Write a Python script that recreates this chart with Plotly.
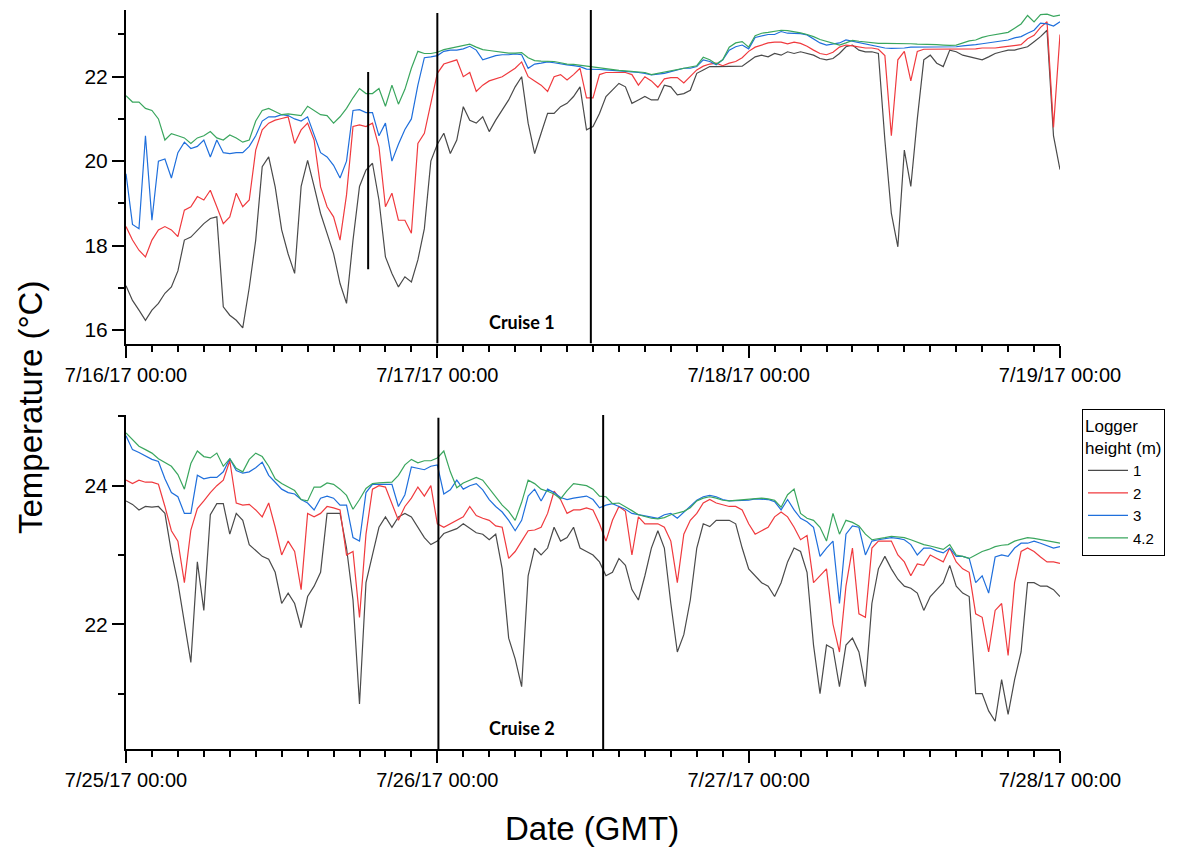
import pandas as pd
import plotly.graph_objects as go

# Logger temperatures (°C), sampled every 30 min over two 3-day windows
TOP_START = "2017-07-16 00:00"
BOT_START = "2017-07-25 00:00"

top_1m = [
    17.05, 16.7, 16.47, 16.23, 16.47, 16.63, 16.87, 17.02, 17.4, 18.13, 18.2, 18.37,
    18.52, 18.64, 18.68, 16.55, 16.35, 16.23, 16.05, 17.0, 18.13, 19.87, 20.1, 19.39,
    18.37, 17.8, 17.34, 19.4, 20.02, 19.4, 18.76, 18.29, 17.81, 17.1, 16.63, 18.13,
    19.4, 19.79, 19.95, 19.08, 17.73, 17.34, 17.02, 17.26, 17.14, 17.66, 18.4, 20.0,
    20.4, 20.66, 20.18, 20.5, 21.29, 20.97, 20.9, 21.05, 20.7, 20.97, 21.21, 21.45,
    21.76, 22.0, 20.9, 20.18, 20.66, 21.13, 21.13, 21.29, 21.37, 21.53, 21.76, 20.74,
    20.82, 21.13, 21.53, 21.68, 21.84, 21.76, 21.37, 21.45, 21.53, 21.45, 21.45, 21.8,
    21.76, 21.57, 21.6, 21.68, 22.08, 22.16, 22.24, 22.24, 22.24, 22.24, 22.25, 22.25,
    22.36, 22.47, 22.51, 22.47, 22.55, 22.51, 22.59, 22.55, 22.59, 22.55, 22.51, 22.43,
    22.4, 22.43, 22.55, 22.71, 22.75, 22.63, 22.59, 22.59, 22.55, 20.5, 18.76, 17.97,
    20.26, 19.4, 21.0, 22.4, 22.51, 22.32, 22.24, 22.63, 22.59, 22.51, 22.47, 22.43,
    22.4, 22.47, 22.55, 22.59, 22.63, 22.63, 22.67, 22.71, 22.83, 22.95, 23.1, 20.6,
    19.8,
]
top_2m = [
    18.45, 18.13, 17.89, 17.73, 18.13, 18.37, 18.45, 18.37, 18.21, 18.84, 18.92, 19.16,
    19.08, 19.31, 18.92, 18.52, 18.68, 19.24, 18.92, 19.08, 20.26, 20.74, 20.9, 20.97,
    21.01, 21.05, 20.42, 20.74, 20.9, 20.5, 19.39, 18.92, 18.68, 18.13, 19.2, 20.82,
    20.86, 20.82, 20.9, 20.34, 18.92, 19.24, 18.6, 18.6, 18.29, 20.42, 20.66, 21.37,
    22.08, 22.3, 22.35, 22.4, 22.0, 22.1, 21.65, 21.8, 21.9, 21.95, 22.0, 22.1,
    22.2, 22.35, 22.0, 21.9, 21.8, 21.65, 22.0, 22.05, 21.92, 22.05, 22.2, 21.5,
    21.5, 22.05, 22.1, 22.1, 22.1, 22.1, 22.05, 21.8, 22.0, 21.9, 21.75, 21.95,
    21.98, 21.98, 21.85, 22.0, 22.16, 22.25, 22.3, 22.32, 22.26, 22.32, 22.36, 22.45,
    22.6, 22.7, 22.75, 22.8, 22.82, 22.82, 22.78, 22.82, 22.79, 22.72, 22.63, 22.55,
    22.52, 22.58, 22.7, 22.75, 22.73, 22.7, 22.68, 22.68, 22.65, 22.5, 20.6, 22.4,
    22.6, 21.9, 22.6, 22.65, 22.65, 22.65, 22.65, 22.65, 22.65, 22.65, 22.65, 22.66,
    22.68, 22.68, 22.68, 22.7, 22.72, 22.74, 22.76, 22.9, 22.98, 23.17, 23.3, 20.8,
    23.0,
]
top_3m = [
    19.7, 18.5, 18.4, 20.6, 18.6, 20.0, 20.05, 19.6, 20.2, 20.45, 20.3, 20.35,
    20.5, 20.1, 20.5, 20.2, 20.18, 20.2, 20.2, 20.35, 20.6, 20.95, 21.05, 21.05,
    21.1, 21.08, 21.0, 20.95, 21.05, 20.6, 20.2, 20.1, 19.9, 19.6, 20.0, 21.2,
    21.22, 21.15, 21.15, 20.6, 20.9, 20.0, 20.4, 20.75, 21.0, 21.8, 22.45, 22.47,
    22.5, 22.6, 22.63, 22.63, 22.66, 22.72, 22.63, 22.4, 22.45, 22.5, 22.52, 22.52,
    22.54, 22.52, 22.2, 22.3, 22.32, 22.35, 22.33, 22.3, 22.28, 22.26, 22.24, 22.18,
    22.18, 22.17, 22.16, 22.15, 22.14, 22.13, 22.12, 22.1, 22.08, 22.04, 22.06, 22.08,
    22.12, 22.16, 22.2, 22.2, 22.24, 22.4, 22.36, 22.28, 22.4, 22.63, 22.71, 22.75,
    22.66, 22.93, 22.97, 23.0, 23.0, 23.07, 23.03, 23.03, 23.02, 22.99, 22.9, 22.8,
    22.75, 22.78, 22.8, 22.87, 22.84, 22.8, 22.78, 22.75, 22.72, 22.68, 22.67, 22.67,
    22.68, 22.7, 22.7, 22.7, 22.71, 22.71, 22.7, 22.7, 22.71, 22.73, 22.74, 22.76,
    22.78, 22.8, 22.82, 22.84, 22.87, 22.92, 22.95, 23.03, 23.1, 23.27, 23.25, 23.2,
    23.3,
]
top_42m = [
    21.55, 21.4, 21.4, 21.25, 21.2, 21.0, 20.5, 20.65, 20.6, 20.55, 20.42, 20.55,
    20.6, 20.7, 20.55, 20.5, 20.62, 20.55, 20.45, 20.5, 20.95, 21.2, 21.25, 21.18,
    21.1, 21.12, 21.1, 21.08, 21.3, 21.2, 21.1, 21.08, 20.9, 21.05, 21.25, 21.5,
    21.72, 21.6, 21.6, 21.72, 21.3, 21.8, 21.35, 21.7, 22.2, 22.6, 22.55, 22.55,
    22.58, 22.64, 22.67, 22.7, 22.74, 22.77, 22.7, 22.64, 22.62, 22.6, 22.58, 22.56,
    22.56, 22.57, 22.45, 22.38, 22.37, 22.37, 22.36, 22.33, 22.3, 22.29, 22.27, 22.24,
    22.22, 22.2, 22.18, 22.16, 22.15, 22.14, 22.13, 22.12, 22.1, 22.05, 22.08, 22.1,
    22.14, 22.17, 22.2, 22.22, 22.26, 22.46, 22.4, 22.3, 22.4, 22.7, 22.8, 22.83,
    22.7, 22.97, 23.03, 23.05, 23.08, 23.1, 23.09, 23.07, 23.04, 23.0, 22.95, 22.88,
    22.84, 22.8, 22.75, 22.8, 22.86, 22.84, 22.82, 22.8, 22.79, 22.79, 22.79, 22.79,
    22.78, 22.78, 22.77, 22.77, 22.76, 22.76, 22.75, 22.74, 22.75, 22.8, 22.85, 22.87,
    22.93, 22.97, 23.0, 23.03, 23.05, 23.15, 23.25, 23.45, 23.3, 23.47, 23.48, 23.43,
    23.46,
]

bot_1m = [
    23.78, 23.73, 23.65, 23.7, 23.69, 23.7, 23.6, 23.04, 22.6, 22.05, 21.45, 22.9,
    22.2, 23.58, 23.74, 23.74, 23.3, 23.6, 23.5, 23.15, 23.06, 22.98, 22.94, 22.75,
    22.3, 22.45, 22.3, 21.95, 22.4, 22.55, 22.75, 23.6, 23.6, 23.6, 23.1, 22.35,
    20.85, 22.6, 23.0, 23.4, 23.55, 23.4, 23.55, 23.6, 23.55, 23.4, 23.25, 23.15,
    23.2, 23.31, 23.35, 23.38, 23.45, 23.38, 23.32, 23.3, 23.22, 23.3, 22.8, 21.8,
    21.5, 21.1, 22.7, 23.1, 23.0, 23.1, 23.4, 23.2, 23.25, 23.4, 23.1, 23.05,
    23.0, 22.9, 22.7, 22.75, 22.95, 22.85, 22.5, 22.35, 22.7, 23.1, 23.35, 23.1,
    22.3, 21.6, 21.85, 22.35, 23.1, 23.45, 23.41, 23.5, 23.5, 23.5, 23.45, 23.1,
    22.8, 22.7, 22.6, 22.55, 22.4, 22.6, 22.9, 23.1, 23.05, 22.75, 21.7, 21.0,
    21.7, 21.65, 21.1, 21.7, 21.8, 21.6, 21.1, 22.3, 22.8, 22.98, 22.8, 22.65,
    22.55, 22.52, 22.45, 22.2, 22.4, 22.5, 22.6, 22.85, 22.55, 22.45, 22.4, 21.0,
    21.0, 20.75, 20.6, 21.2, 20.7, 21.2, 21.6, 22.6, 22.6, 22.55, 22.55, 22.5,
    22.4,
]
bot_2m = [
    24.08, 24.03, 24.08, 24.05, 24.05, 24.02, 23.7, 23.35, 23.2, 22.6, 23.36, 23.67,
    23.78, 23.9, 24.0, 24.08, 24.36, 23.75, 23.72, 23.73, 23.65, 23.55, 23.75, 23.4,
    23.0, 23.2, 23.05, 22.5, 23.6, 23.55, 23.6, 23.7, 23.68, 23.65, 23.0, 23.05,
    22.1, 23.3, 23.95, 24.0, 23.98, 23.75, 23.5, 23.7, 23.82, 23.98, 23.85, 24.0,
    23.45, 23.4, 23.45, 23.5, 23.55, 23.7, 23.57, 23.53, 23.5, 23.42, 23.4, 22.95,
    23.05, 23.2, 23.35, 23.36, 23.4, 23.6, 23.92, 23.8, 23.6, 23.65, 23.65, 23.68,
    23.65, 23.45, 23.2, 23.5, 23.7, 23.63, 23.0, 23.55, 23.45, 23.45, 23.45, 23.4,
    23.2, 22.6, 23.3, 23.5, 23.6, 23.75, 23.8, 23.75, 23.72, 23.7, 23.7, 23.65,
    23.45, 23.3, 23.35, 23.4, 23.55, 23.62, 23.55, 23.4, 23.22, 23.28, 22.6, 22.7,
    22.8, 22.0, 21.6, 22.55, 23.1, 22.15, 22.1, 23.1, 23.2, 23.2, 23.2, 23.0,
    22.9, 22.7, 22.87, 22.85, 23.0, 22.95, 22.9, 23.1, 22.9, 22.8, 22.75, 22.15,
    22.1, 21.6, 22.2, 22.3, 21.55, 22.6, 23.05, 23.1, 23.05, 22.97, 22.9, 22.9,
    22.88,
]
bot_3m = [
    24.72, 24.52, 24.48, 24.43, 24.38, 24.35, 24.1, 23.9, 23.84, 23.6, 23.6, 24.15,
    24.1, 24.12, 24.12, 24.2, 24.39, 24.22, 24.18, 24.2, 24.26, 24.34, 24.15, 24.05,
    23.95, 23.9, 23.88, 23.8, 23.75, 23.65, 23.82, 23.85, 23.82, 23.72, 23.72, 23.25,
    23.2, 23.9, 24.02, 24.02, 24.02, 24.02, 23.7, 23.87, 24.27, 24.25, 24.23, 24.28,
    24.3, 23.88, 23.94, 24.08, 23.95, 24.0, 24.03, 23.94, 23.8, 23.7, 23.62, 23.5,
    23.35, 23.5, 23.85, 23.95, 23.78, 23.95, 23.9, 23.83, 23.8, 23.82, 23.83, 23.85,
    23.8, 23.68, 23.72, 23.74, 23.7, 23.66, 23.6, 23.58, 23.56, 23.55, 23.53, 23.58,
    23.6, 23.53, 23.62, 23.71, 23.79, 23.84, 23.86, 23.84, 23.8, 23.78, 23.78, 23.79,
    23.79, 23.81, 23.81, 23.8, 23.77, 23.65, 23.8, 23.65, 23.53, 23.48, 23.4, 22.98,
    23.1, 23.2, 22.3, 23.3, 23.42, 23.4, 23.0, 23.2, 23.22, 23.24, 23.25, 23.24,
    23.22, 23.15, 23.0, 23.1, 23.1, 23.06, 23.03, 23.1, 22.98, 22.98, 22.95, 22.6,
    22.7, 22.45, 22.97, 23.0, 22.98, 23.1, 23.17, 23.17, 23.2, 23.17, 23.13, 23.1,
    23.12,
]
bot_42m = [
    24.76, 24.66, 24.57, 24.52, 24.47, 24.39, 24.33, 24.28, 24.16, 23.95, 24.32, 24.5,
    24.42, 24.4, 24.47, 24.28, 24.39, 24.25, 24.2, 24.38, 24.47, 24.42, 24.28, 24.1,
    24.03, 23.98, 23.93, 23.8, 23.78, 23.98, 23.98, 24.04, 24.02, 23.95, 23.86, 23.66,
    23.8, 23.96, 24.03, 24.04, 24.05, 24.05, 24.15, 24.3, 24.38, 24.33, 24.36, 24.36,
    24.4, 24.5, 24.2, 23.97, 24.04, 24.08, 24.12, 24.08, 23.96, 23.85, 23.72, 23.63,
    23.5, 23.76, 24.08, 24.03, 23.95, 23.92, 23.88, 23.81, 23.93, 24.03, 24.02, 24.0,
    23.95, 23.85, 23.84, 23.74, 23.75, 23.7, 23.64, 23.58, 23.55, 23.53, 23.52, 23.54,
    23.58, 23.6, 23.63, 23.68, 23.78, 23.82, 23.84, 23.82, 23.79, 23.78, 23.79, 23.8,
    23.81, 23.82, 23.82, 23.81, 23.79, 23.69, 23.87, 23.95, 23.6, 23.53, 23.5, 23.4,
    23.2, 23.6, 23.3, 23.5, 23.47, 23.42, 23.3, 23.22, 23.23, 23.25, 23.27, 23.26,
    23.25, 23.22, 23.18, 23.15, 23.13, 23.1, 23.08, 23.15, 23.0, 22.98, 22.95, 23.0,
    23.05, 23.08, 23.12, 23.14, 23.15, 23.2, 23.23, 23.25, 23.24, 23.22, 23.2, 23.18,
    23.17,
]

heights = ["1", "2", "3", "4.2"]
colors = ["#4a4a4a", "#f03a3e", "#1f6fdc", "#3aa65e"]
top_series = [top_1m, top_2m, top_3m, top_42m]
bot_series = [bot_1m, bot_2m, bot_3m, bot_42m]

# Cruise markers: (time, lower value, upper value)
top_events = [("2017-07-17 00:00", 15.68, 23.51),
              ("2017-07-17 11:50", 15.68, 23.58),
              ("2017-07-16 18:40", 17.44, 22.11)]
bot_events = [("2017-07-26 00:05", 20.2, 24.98),
              ("2017-07-26 12:47", 20.2, 25.02)]

for s in top_series + bot_series:
    assert len(s) == 145, len(s)

top_t = pd.date_range(TOP_START, periods=145, freq="30min")
bot_t = pd.date_range(BOT_START, periods=145, freq="30min")

W, H = 1188, 852
FONT = "Arial, Liberation Sans, sans-serif"

fig = go.Figure()
for name, col, ys in zip(heights, colors, top_series):
    fig.add_trace(go.Scatter(x=top_t, y=ys, mode="lines", name=name,
                             line=dict(color=col, width=1.2),
                             xaxis="x", yaxis="y", showlegend=True))
for name, col, ys in zip(heights, colors, bot_series):
    fig.add_trace(go.Scatter(x=bot_t, y=ys, mode="lines", name=name,
                             line=dict(color=col, width=1.2),
                             xaxis="x2", yaxis="y2", showlegend=False))

shapes = []
for t, lo, hi in top_events:
    shapes.append(dict(type="line", xref="x", yref="y", x0=t, x1=t, y0=lo, y1=hi,
                       line=dict(color="black", width=2)))
for t, lo, hi in bot_events:
    shapes.append(dict(type="line", xref="x2", yref="y2", x0=t, x1=t, y0=lo, y1=hi,
                       line=dict(color="black", width=2)))


def xaxis_style(start, end, anchor):
    return dict(
        type="date", range=[start, end], anchor=anchor,
        domain=[126 / W, 1060 / W],
        showline=True, linecolor="black", linewidth=2, mirror=False,
        ticks="outside", ticklen=12, tickwidth=2, tickcolor="black",
        tick0=start, dtick=86400000, tickformat="%-m/%-d/%y %H:%M",
        tickfont=dict(family=FONT, size=20, color="black"),
        minor=dict(dtick=7200000, ticks="outside", ticklen=6, tickwidth=2,
                   tickcolor="black", showgrid=False),
        showgrid=False, zeroline=False, automargin=False,
    )


def yaxis_style(lo, hi, anchor, dom):
    return dict(
        range=[lo, hi], anchor=anchor, domain=dom,
        showline=True, linecolor="black", linewidth=2,
        ticks="outside", ticklen=12, tickwidth=2, tickcolor="black",
        tick0=0, dtick=2,
        tickfont=dict(family=FONT, size=21, color="black"),
        minor=dict(dtick=1, ticks="outside", ticklen=6, tickwidth=2,
                   tickcolor="black", showgrid=False),
        showgrid=False, zeroline=False, automargin=False,
    )


fig.update_layout(
    width=W, height=H,
    margin=dict(l=0, r=0, t=0, b=0),
    paper_bgcolor="white", plot_bgcolor="white",
    font=dict(family=FONT, color="black"),
    xaxis=xaxis_style("2017-07-16 00:00", "2017-07-19 00:00", "y"),
    yaxis=yaxis_style(15.68, 23.58, "x", [1 - 343.5 / H, 1 - 10 / H]),
    xaxis2=xaxis_style("2017-07-25 00:00", "2017-07-28 00:00", "y2"),
    yaxis2=yaxis_style(20.2, 25.02, "x2", [1 - 749 / H, 1 - 415 / H]),
    shapes=shapes,
    showlegend=True,
    legend=dict(
        x=1082 / W, y=1 - 409 / H, xanchor="left", yanchor="top",
        bordercolor="black", borderwidth=1, bgcolor="white",
        font=dict(family=FONT, size=15, color="black"),
        title=dict(text="Logger<br>height (m)",
                   font=dict(family=FONT, size=17, color="black")),
        tracegroupgap=0, itemwidth=40,
    ),
    annotations=[
        dict(text="Temperature (°C)", textangle=-90, xref="paper", yref="paper",
             x=30 / W, y=1 - 408 / H, xanchor="center", yanchor="middle",
             showarrow=False,
             font=dict(family=FONT, size=33, color="black")),
        dict(text="Date (GMT)", xref="paper", yref="paper",
             x=592 / W, y=1 - 828 / H, xanchor="center", yanchor="middle",
             showarrow=False,
             font=dict(family=FONT, size=33, color="black")),
        dict(text="<b>Cruise 1</b>", xref="x", yref="y",
             x="2017-07-17 06:30", y=16.19, showarrow=False,
             font=dict(family="Lato, Open Sans, sans-serif", size=18, color="black")),
        dict(text="<b>Cruise 2</b>", xref="x2", yref="y2",
             x="2017-07-26 06:30", y=20.5, showarrow=False,
             font=dict(family="Lato, Open Sans, sans-serif", size=18, color="black")),
    ],
)

fig.write_html("out.html")
